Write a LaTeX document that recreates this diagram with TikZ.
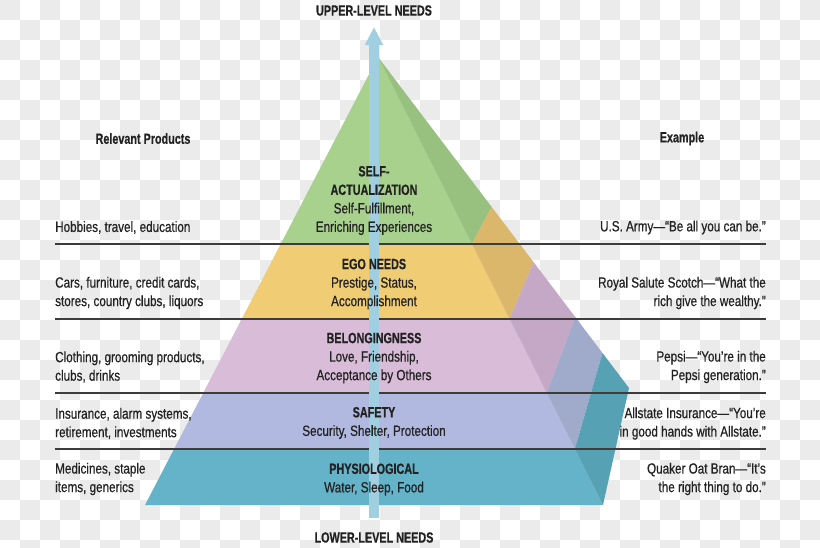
\documentclass[tikz,border=0pt]{standalone}
\usepackage{fontspec}
\setmainfont{Liberation Sans}[FakeStretch=0.79,UprightFeatures={FakeBold=0.6},BoldFeatures={FakeStretch=0.73,FakeBold=0.5}]
\usetikzlibrary{arrows.meta,positioning}
\definecolor{chkgray}{HTML}{EBEBEB}
\definecolor{lvlgreen}{HTML}{A9D18E}
\definecolor{lvlgreenside}{HTML}{98C17F}
\definecolor{lvlyellow}{HTML}{F0CD74}
\definecolor{lvlyellowside}{HTML}{DAB76B}
\definecolor{lvlpink}{HTML}{D9BDD8}
\definecolor{lvlpinkside}{HTML}{C5A8C6}
\definecolor{lvlblue}{HTML}{B1B9E0}
\definecolor{lvlblueside}{HTML}{A0AACB}
\definecolor{lvlteal}{HTML}{64B3C9}
\definecolor{lvltealside}{HTML}{57A1B5}
\definecolor{arrblue}{HTML}{9FCFE1}
\definecolor{inkgray}{HTML}{222222}
\definecolor{rulegray}{HTML}{3C3C3C}
\tikzset{
  txt/.style={font=\fontsize{14.8}{18.5}\selectfont, text=inkgray, inner sep=0pt},
  lvltxt/.style={txt, align=center},
  prodtxt/.style={txt, align=left, anchor=west},
  extxt/.style={txt, align=right, anchor=east},
  headtxt/.style={txt, font=\fontsize{14.8}{18.5}\selectfont\bfseries},
  sep/.style={rulegray, line width=1.6pt},
  needarr/.style={arrblue, line width=10pt, -{Triangle[width=17pt,length=18pt]}},
}

\begin{document}
\begin{tikzpicture}[x=1pt,y=-1pt]
    \useasboundingbox (0,0) rectangle (820,547);
    \clip (0,0) rectangle (820,547);
    % --- checkerboard background
    \fill[white] (0,0) rectangle (820,547);
    \foreach \i in {0,2,...,40}{
      \foreach \j in {0,2,...,26}{
        \fill[chkgray] (\i*20,\j*20) rectangle ++(20,20);
        \fill[chkgray] (\i*20+20,\j*20+20) rectangle ++(20,20);
      }}
    % --- pyramid corners
    \coordinate (A) at (378,57);
    \coordinate (L0) at (A); \coordinate (R0) at (A); \coordinate (O0) at (A);
    \coordinate (L1) at (280.7,244); \coordinate (R1) at (471.9,244);
    \coordinate (L2) at (241.7,319); \coordinate (R2) at (509.6,319);
    \coordinate (L3) at (203.2,393); \coordinate (R3) at (546.7,393);
    \coordinate (L4) at (174.1,449); \coordinate (R4) at (574.9,449);
    \coordinate (L5) at (145,505);   \coordinate (R5) at (603,505);
    \coordinate (O1) at (491.7,207); \coordinate (O2) at (533.5,262);
    \coordinate (O3) at (575.2,317); \coordinate (O4) at (602.5,353);
    \coordinate (O5) at (629,388);
    % --- layers: front face and side face
    \foreach \k/\p/\c in {1/0/lvlgreen, 2/1/lvlyellow, 3/2/lvlpink, 4/3/lvlblue, 5/4/lvlteal}{
      \fill[\c] (L\p) -- (L\k) -- (R\k) -- (R\p) -- cycle;
      \fill[\c side] (R\p) -- (O\p) -- (O\k) -- (R\k) -- cycle;
    }
    % --- separator rules
    \foreach \y in {244,319,393,449}{
      \coordinate (sl\y) at (55,\y); \coordinate (sr\y) at (766,\y);
      \draw[sep] (sl\y) -- (sr\y);
    }
    % --- needs arrow
    \coordinate (arrbot) at (374,518);
    \coordinate (arrtop) at (374,27);
    \draw[needarr] (arrbot) -- (arrtop);
    % --- headings
    \node[headtxt] (upper) at (374,10.5) {UPPER-LEVEL NEEDS};
    \node[headtxt] (lower) at (374,537.5) {LOWER-LEVEL NEEDS};
    \node[headtxt] (prodhead) at (143,138.5) {Relevant Products};
    \node[headtxt] (exhead) at (682,138.5) {Example};
    % --- pyramid labels
    \node[lvltxt] (selfact) at (374,200.5) {\textbf{SELF-}\\\textbf{ACTUALIZATION}\\Self-Fulfillment,\\Enriching Experiences};
    \node[lvltxt] (ego) at (374,284) {\textbf{EGO NEEDS}\\Prestige, Status,\\Accomplishment};
    \node[lvltxt] (belong) at (374,358) {\textbf{BELONGINGNESS}\\Love, Friendship,\\Acceptance by Others};
    \node[lvltxt] (safety) at (374,423) {\textbf{SAFETY}\\Security, Shelter, Protection};
    \node[lvltxt] (physio) at (374,479.5) {\textbf{PHYSIOLOGICAL}\\Water, Sleep, Food};
    % --- products column
    \foreach \n/\y/\t in {1/227.5/{Hobbies, travel, education},
        2/293/{Cars, furniture, credit cards,\\stores, country clubs, liquors},
        3/367/{Clothing, grooming products,\\clubs, drinks},
        4/423.5/{Insurance, alarm systems,\\retirement, investments},
        5/479/{Medicines, staple\\items, generics}}{
      \node[prodtxt] (prod\n) at (55,\y) {\t};
    }
    % --- examples column
    \foreach \n/\y/\t in {1/227.5/{U.S. Army—“Be all you can be.”},
        2/293/{Royal Salute Scotch—“What the\\rich give the wealthy.”},
        3/367/{Pepsi—“You’re in the\\Pepsi generation.”},
        4/423.5/{Allstate Insurance—“You’re\\in good hands with Allstate.”},
        5/479/{Quaker Oat Bran—“It’s\\the right thing to do.”}}{
      \node[extxt] (ex\n) at (766,\y) {\t};
    }
\end{tikzpicture}
\end{document}
